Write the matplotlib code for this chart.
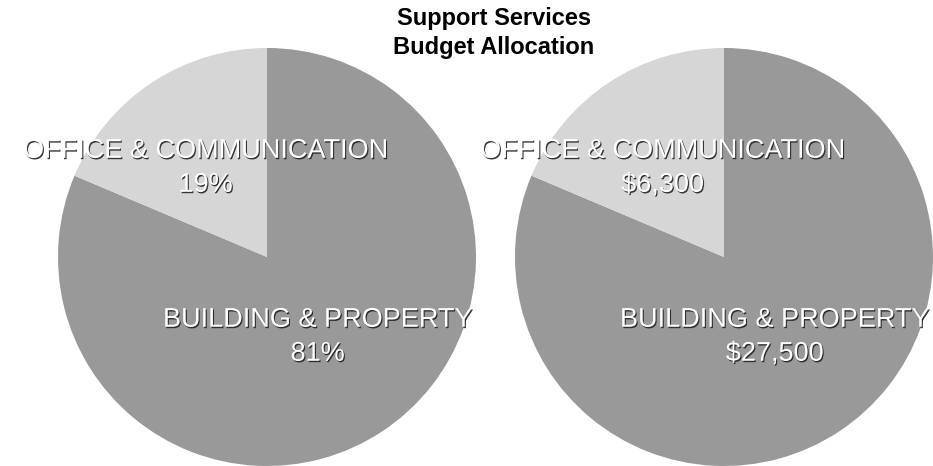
import numpy as np
import matplotlib
matplotlib.use("Agg")
import matplotlib.pyplot as plt
import matplotlib.patheffects as pe

categories = ["BUILDING & PROPERTY", "OFFICE & COMMUNICATION"]
amounts = [27500, 6300]
percent_labels = ["81%", "19%"]
dollar_labels = ["$27,500", "$6,300"]
colors = ["#999999", "#d6d6d6"]

plt.rcParams['font.family'] = ['Liberation Sans', 'DejaVu Sans']

fig = plt.figure(figsize=(9.33, 4.66), dpi=100)

shadow = [pe.withSimplePatchShadow(offset=(0.8, -1.0), shadow_rgbFace='#222222', alpha=0.9)]

# label distance (fraction of radius) for each wedge
label_dist = [0.44, 0.53]


def draw_pie(ax, values_text):
    # small slice starts at 12 o'clock and runs counterclockwise
    start = 90 - 360 * amounts[0] / sum(amounts)
    wedges, _ = ax.pie(amounts, colors=colors, startangle=start,
                       counterclock=True, radius=1, wedgeprops=dict(linewidth=0))
    for i, w in enumerate(wedges):
        mid = np.deg2rad((w.theta1 + w.theta2) / 2)
        x = label_dist[i] * np.cos(mid)
        y = label_dist[i] * np.sin(mid)
        ax.text(x, y - 0.015, categories[i] + "\n" + values_text[i], ha='center', va='center',
                color='white', fontsize=19.5, linespacing=1.4, path_effects=shadow)
    ax.set_xlim(-1, 1)
    ax.set_ylim(-1, 1)
    ax.set_aspect('equal')
    ax.axis('off')


ax1 = fig.add_axes([58 / 933, 0, 418 / 933, 418 / 466])
ax2 = fig.add_axes([515 / 933, 0, 418 / 933, 418 / 466])
for ax, txt in [(ax1, percent_labels), (ax2, dollar_labels)]:
    draw_pie(ax, txt)

fig.text(494 / 933, 1 - 33 / 466, "Support Services\nBudget Allocation", ha='center', va='center',
         fontsize=17, fontweight='bold', linespacing=1.3)

fig.savefig("out.png", dpi=100)
